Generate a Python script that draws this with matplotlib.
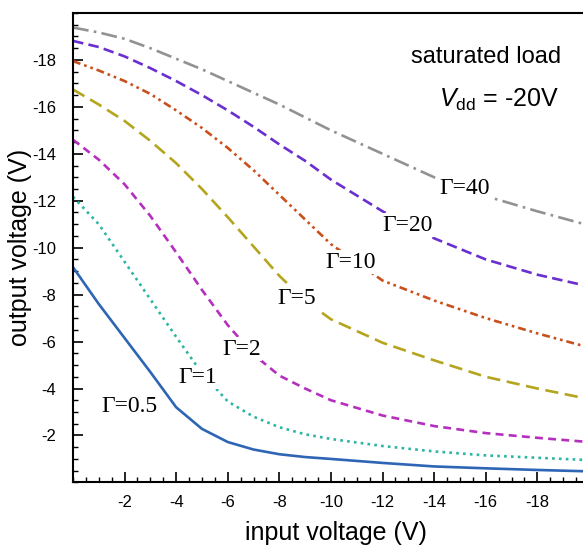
import matplotlib.pyplot as plt
from matplotlib.ticker import MultipleLocator

plt.rcParams['font.family'] = ['Liberation Sans', 'DejaVu Sans']
plt.rcParams['mathtext.fontset'] = 'custom'
plt.rcParams['mathtext.rm'] = 'Liberation Sans'
plt.rcParams['mathtext.it'] = 'Liberation Sans:italic'
plt.rcParams['axes.unicode_minus'] = False

# input voltage (V)
vin = [0, -1, -2, -3, -4, -5, -6, -7, -8, -9, -10, -12, -14, -16, -18, -20]

# output voltage (V) for each gamma
g05 = [-9.17, -7.6, -6.15, -4.7, -3.2, -2.28, -1.72, -1.4, -1.2, -1.08, -1.0, -0.83, -0.68, -0.6, -0.53, -0.47]
g1 = [-12.17, -11.0, -9.4, -7.8, -6.2, -4.65, -3.45, -2.8, -2.35, -2.05, -1.85, -1.55, -1.32, -1.15, -1.05, -0.95]
g2 = [-14.6, -13.75, -12.7, -11.35, -9.8, -8.2, -6.7, -5.45, -4.55, -4.0, -3.5, -2.85, -2.4, -2.1, -1.9, -1.72]
g5 = [-16.74, -16.1, -15.4, -14.55, -13.6, -12.5, -11.3, -10.05, -8.8, -7.75, -6.95, -5.95, -5.2, -4.5, -4.0, -3.55]
g10 = [-17.95, -17.55, -17.1, -16.55, -15.85, -15.1, -14.25, -13.3, -12.25, -11.2, -10.15, -8.6, -7.75, -7.0, -6.35, -5.75]
g20 = [-18.81, -18.55, -18.15, -17.65, -17.1, -16.5, -15.85, -15.15, -14.4, -13.7, -12.9, -11.55, -10.4, -9.5, -8.85, -8.35]
g40 = [-19.38, -19.17, -18.9, -18.5, -18.05, -17.6, -17.1, -16.6, -16.1, -15.55, -15.0, -14.0, -13.0, -12.2, -11.55, -10.95]

labels = ["Γ=0.5", "Γ=1", "Γ=2", "Γ=5", "Γ=10", "Γ=20", "Γ=40"]
label_x = [-2.2, -4.84, -6.52, -8.66, -10.78, -12.98, -15.18]
label_y = [-3.25, -4.47, -5.68, -7.82, -9.39, -10.96, -12.53]

curves = [g05, g1, g2, g5, g10, g20, g40]
colors = ['#2e65b5', '#2bb5a5', '#b52fbf', '#b5a51e', '#c9501c', '#6a2fd0', '#929292']
styles = ['-', (0, (1, 1.6)), (0, (3, 2)), (0, (5, 2.5)),
          (0, (3, 1.5, 1, 1.5, 1, 1.5)), (0, (4, 2)), (0, (6, 2, 1, 2))]

fig = plt.figure(figsize=(5.83, 5.48), dpi=100)
ax = fig.add_axes([0.1252, 0.1197, 0.8748, 0.8566])

for ys, c, ls in zip(curves, colors, styles):
    ax.plot(vin, ys, color=c, linestyle=ls, linewidth=1.9)

for t, lx, ly in zip(labels, label_x, label_y):
    ax.text(lx, ly, t, family='Liberation Serif', fontsize=17, ha='center', va='center',
            bbox=dict(facecolor='white', edgecolor='none', pad=1.0), zorder=5)

ax.text(0.81, 0.907, "saturated load", transform=ax.transAxes, fontsize=17,
        ha='center', va='center')
ax.text(0.835, 0.815, r"$V_{\rm dd}$ = -20V", transform=ax.transAxes, fontsize=18,
        ha='center', va='center')

ax.set_xlim(0, -19.77)
ax.set_ylim(0, -20)
ax.set_xticks([-2, -4, -6, -8, -10, -12, -14, -16, -18])
ax.set_yticks([-2, -4, -6, -8, -10, -12, -14, -16, -18])
ax.xaxis.set_minor_locator(MultipleLocator(0.5))
ax.yaxis.set_minor_locator(MultipleLocator(0.5))
ax.tick_params(which='major', direction='in', length=7, width=1.2, labelsize=12)
ax.tick_params(which='minor', direction='in', length=3.5, width=1)
ax.tick_params(axis='x', pad=9)
ax.tick_params(axis='y', pad=12)
ax.spines['right'].set_visible(False)
for s in ['left', 'bottom', 'top']:
    ax.spines[s].set_linewidth(1.5)

ax.set_xlabel("input voltage (V)", fontsize=18)
ax.set_ylabel("output voltage (V)", fontsize=18)
ax.xaxis.set_label_coords(0.516, -0.083)
ax.yaxis.set_label_coords(-0.08, 0.5)

fig.savefig("out.png", dpi=100)
